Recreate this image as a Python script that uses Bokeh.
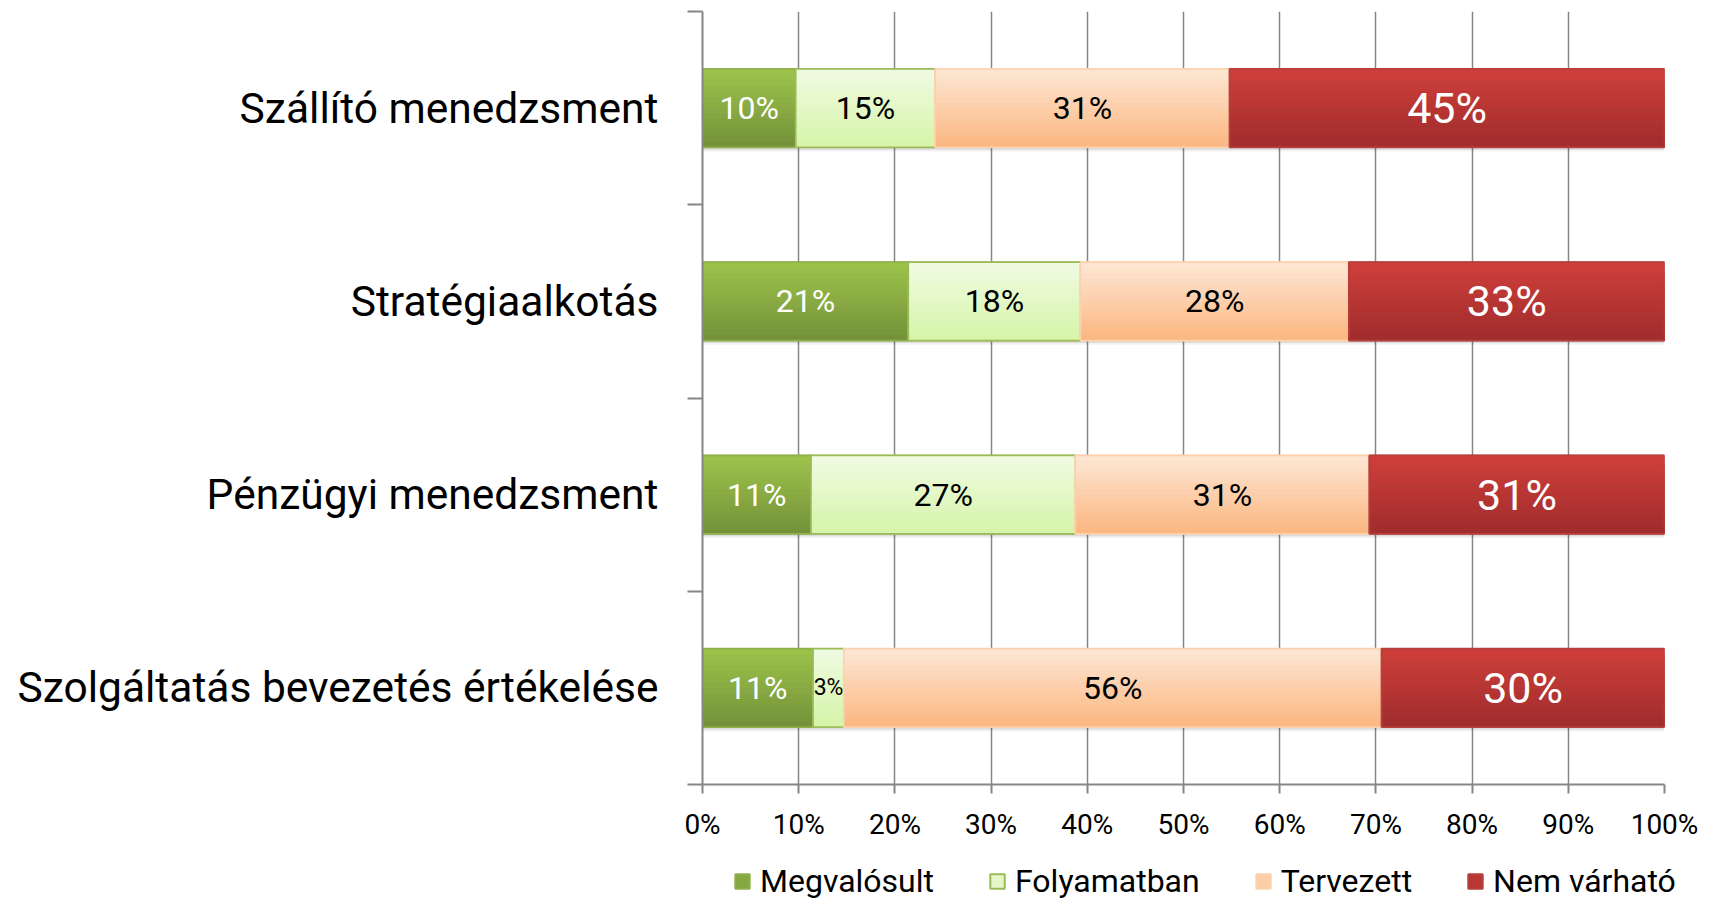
from bokeh.plotting import figure
from bokeh.layouts import column
from bokeh.models import ColumnDataSource, FixedTicker, Legend, LegendItem, Range1d
from bokeh.embed import file_html
from bokeh.resources import INLINE
from bokeh.core.properties import value

# ---- data ----
categories = ["Szállító menedzsment", "Stratégiaalkotás",
              "Pénzügyi menedzsment", "Szolgáltatás bevezetés értékelése"]
series_names = ["Megvalósult", "Folyamatban", "Tervezett", "Nem várható"]
megvalosult = [9.7, 21.4, 11.3, 11.5]
folyamatban = [14.5, 17.9, 27.5, 3.2]
tervezett = [30.6, 27.9, 30.6, 55.9]
nem_varhato = [45.2, 32.8, 30.7, 29.4]
label_megvalosult = ["10%", "21%", "11%", "11%"]
label_folyamatban = ["15%", "18%", "27%", "3%"]
label_tervezett = ["31%", "28%", "31%", "56%"]
label_nem_varhato = ["45%", "33%", "31%", "30%"]
x_ticks = [0, 10, 20, 30, 40, 50, 60, 70, 80, 90, 100]
x_tick_labels = ["0%", "10%", "20%", "30%", "40%", "50%", "60%", "70%", "80%", "90%", "100%"]

# ---- styles ----
FONT = "Roboto"
GRID = "#868686"
grad_top = ["#9DC44B", "#F0FBE3", "#FDE7D5", "#CF3F3B"]
grad_bot = ["#74903A", "#D6F4A8", "#FBB680", "#9F2C2C"]
outline = ["#8FB04C", "#9BBB59", "#FCD2AE", "#B5403D"]
legend_fill = ["#86A843", "#E3F8C6", "#FCCEA8", "#BA3634"]
text_col = ["white", "black", "black", "white"]
text_size = ["32px", "32px", "32px", "43px"]
BAR_H = 0.406
N_STRIPS = 14

all_vals = [megvalosult, folyamatban, tervezett, nem_varhato]
all_labels = [label_megvalosult, label_folyamatban, label_tervezett, label_nem_varhato]
ypos = [len(categories) - 1 - i for i in range(len(categories))]

def hex2rgb(h):
    h = h.lstrip("#")
    return tuple(int(h[i:i + 2], 16) for i in (0, 2, 4))

def mix(c1, c2, t):
    a, b = hex2rgb(c1), hex2rgb(c2)
    return "#%02x%02x%02x" % tuple(round(a[i] + (b[i] - a[i]) * t) for i in range(3))

# normalise to 100 %
totals = [sum(v[i] for v in all_vals) for i in range(len(categories))]
shares = [[v[i] / totals[i] * 100 for i in range(len(categories))] for v in all_vals]

p = figure(frame_width=962, frame_height=773,
           min_border_left=702, min_border_right=47, min_border_top=11, min_border_bottom=60,
           x_range=Range1d(0, 100), y_range=Range1d(-0.5, len(categories) - 0.5),
           output_backend="svg", toolbar_location=None)
p.outline_line_color = None
p.background_fill_color = "white"
p.border_fill_color = "white"

# soft shadow under each full bar
for off, alpha in ((0.022, 0.05), (0.012, 0.09)):
    sh = ColumnDataSource(dict(y=[y - off for y in ypos], left=[0] * len(ypos), right=[100] * len(ypos)))
    p.hbar(y="y", left="left", right="right", height=BAR_H, source=sh,
           fill_color="black", fill_alpha=alpha, line_color=None)

left = [0.0] * len(categories)
for s in range(4):
    right = [left[i] + shares[s][i] for i in range(len(categories))]
    src = ColumnDataSource(dict(y=ypos, left=left, right=right,
                                mid=[(left[i] + right[i]) / 2 for i in range(len(categories))],
                                label=all_labels[s],
                                size=[text_size[s] if shares[s][i] > 6 else "23px" for i in range(len(categories))]))
    p.hbar(y="y", left="left", right="right", height=BAR_H, source=src,
           fill_color=legend_fill[s], line_color=outline[s], line_width=2)
    for k in range(N_STRIPS):
        frac = 1 - k / N_STRIPS
        h = BAR_H * frac
        ys = [y - BAR_H / 2 + h / 2 for y in ypos]
        ssrc = ColumnDataSource(dict(y=ys, left=left, right=right))
        p.hbar(y="y", left="left", right="right", height=h, source=ssrc,
               fill_color=mix(grad_top[s], grad_bot[s], (k + 0.5) / N_STRIPS), line_color=None)
    p.hbar(y="y", left="left", right="right", height=BAR_H, source=src,
           fill_color=None, line_color=outline[s], line_width=1.5)
    p.text(x="mid", y="y", text="label", source=src, text_align="center", text_baseline="middle",
           text_font=value(FONT), text_font_size="size", text_color=text_col[s])
    left = right

# grid
p.xgrid.ticker = FixedTicker(ticks=x_ticks)
p.xgrid.grid_line_color = GRID
p.xgrid.grid_line_width = 1.5
p.ygrid.grid_line_color = None
p.xgrid.level = "underlay"

# x axis
p.xaxis.ticker = FixedTicker(ticks=x_ticks, minor_ticks=[])
p.xaxis.major_label_overrides = {t: l for t, l in zip(x_ticks, x_tick_labels)}
p.xaxis.axis_line_color = GRID
p.xaxis.axis_line_width = 2
p.xaxis.major_tick_line_color = GRID
p.xaxis.major_tick_line_width = 2
p.xaxis.major_tick_out = 9
p.xaxis.major_tick_in = 0
p.xaxis.major_label_standoff = 14
p.xaxis.major_label_text_font = FONT
p.xaxis.major_label_text_font_size = "28px"
p.xaxis.major_label_text_color = "black"

# y axis
ov = {}
for yv, c in zip(ypos, categories):
    ov[yv] = c
    ov[str(yv)] = c
p.yaxis.ticker = FixedTicker(ticks=ypos, minor_ticks=[y + 0.5 for y in range(-1, len(categories))])
p.yaxis.major_label_overrides = ov
p.yaxis.axis_line_color = GRID
p.yaxis.axis_line_width = 2
p.yaxis.major_tick_out = 0
p.yaxis.major_tick_in = 0
p.yaxis.minor_tick_out = 15
p.yaxis.minor_tick_in = 0
p.yaxis.minor_tick_line_color = GRID
p.yaxis.minor_tick_line_width = 2
p.yaxis.major_label_standoff = 29
p.yaxis.major_label_text_font = FONT
p.yaxis.major_label_text_font_size = "42.5px"
p.yaxis.major_label_text_color = "black"

# ---- legend strip (separate figure below the chart) ----
pl = figure(frame_width=1711, frame_height=58, min_border=0,
            x_range=Range1d(0, 1), y_range=Range1d(0, 1),
            x_axis_location=None, y_axis_location=None,
            output_backend="svg", toolbar_location=None)
pl.outline_line_color = None
pl.grid.visible = False
pl.border_fill_color = "white"
leg_items = []
for s in range(4):
    # legend proxy: one zero-width row kept outside the visible range
    proxy = ColumnDataSource(dict(y=[-5.0], left=[0.0], right=[0.0]))
    r = pl.hbar(y="y", left="left", right="right", height=0.5, source=proxy,
                fill_color=legend_fill[s], line_color=outline[s], line_width=2)
    leg_items.append(LegendItem(label=series_names[s], renderers=[r], index=0))
legend = Legend(items=leg_items, orientation="horizontal", location=(733, 2),
                glyph_width=18, glyph_height=18, label_standoff=9, spacing=54,
                label_text_font=FONT, label_text_font_size="32px", label_text_color="black",
                padding=0, margin=0, border_line_alpha=0, background_fill_alpha=0)
pl.add_layout(legend, "center")

layout = column(p, pl, spacing=0)
open("out.html", "w").write(file_html(layout, INLINE))
